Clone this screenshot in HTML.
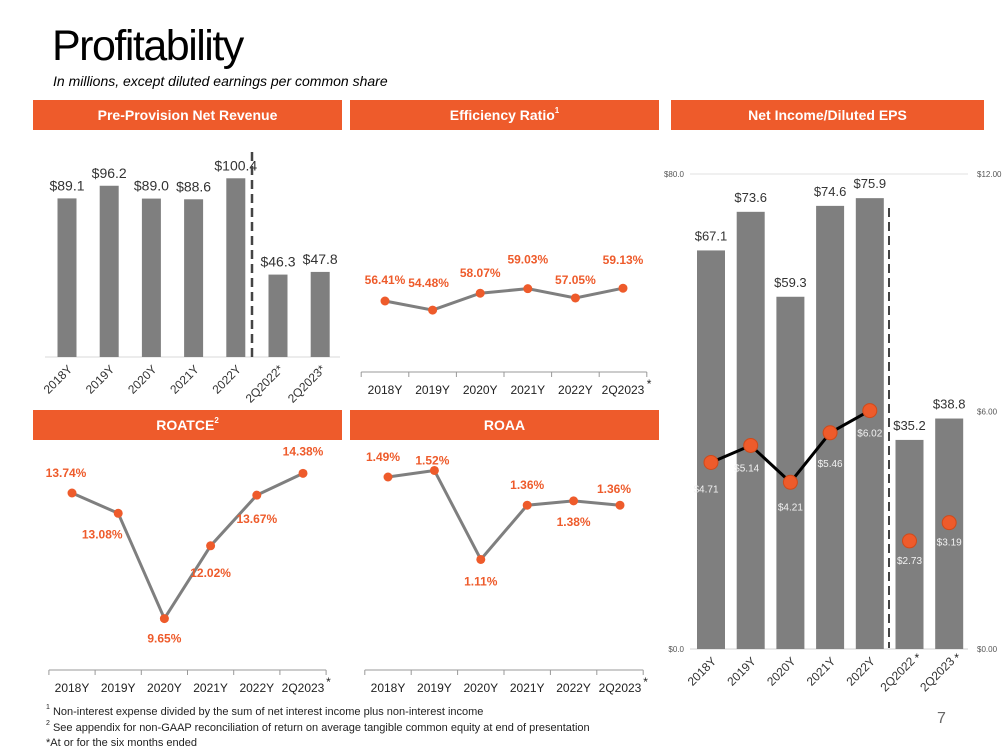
<!DOCTYPE html>
<html><head><meta charset="utf-8"><style>
body{margin:0;width:1008px;height:756px;background:#fff;font-family:"Liberation Sans",sans-serif;overflow:hidden;position:relative}
.hdr{position:absolute;height:30px;background:#EE5B2B;color:#fff;font-weight:bold;font-size:14px;text-align:center;line-height:30px}
sup{line-height:0;font-size:8px;position:relative;top:-1px}
svg{position:absolute;left:0;top:0}
</style></head><body>
<div style="position:absolute;left:52px;top:22px;font-size:43px;color:#000;letter-spacing:-1.5px">Profitability</div>
<div style="position:absolute;left:53px;top:73px;font-size:14px;font-style:italic">In millions, except diluted earnings per common share</div>
<div class="hdr" style="left:33px;top:100px;width:309px">Pre-Provision Net Revenue</div>
<div class="hdr" style="left:350px;top:100px;width:309px">Efficiency Ratio<sup>1</sup></div>
<div class="hdr" style="left:671px;top:100px;width:313px">Net Income/Diluted EPS</div>
<div class="hdr" style="left:33px;top:410px;width:309px">ROATCE<sup>2</sup></div>
<div class="hdr" style="left:350px;top:410px;width:309px">ROAA</div>
<div style="position:absolute;left:46px;top:705px;font-size:11px;line-height:15.5px;color:#222">
<div><sup style="font-size:7px">1</sup> Non-interest expense divided by the sum of net interest income plus non-interest income</div>
<div><sup style="font-size:7px">2</sup> See appendix for non-GAAP reconciliation of return on average tangible common equity at end of presentation</div>
<div>*At or for the six months ended</div></div>
<div style="position:absolute;left:937px;top:710px;font-size:16px;color:#666">7</div>
<svg id="s" width="1008" height="756"></svg>
<script>
const ppnrCats=["2018Y","2019Y","2020Y","2021Y","2022Y","2Q2022*","2Q2023*"];
const ppnrVals=[89.1,96.2,89.0,88.6,100.4,46.3,47.8];
const effCats=["2018Y","2019Y","2020Y","2021Y","2022Y","2Q2023"];
const effVals=[56.41,54.48,58.07,59.03,57.05,59.13];
const roatceVals=[13.74,13.08,9.65,12.02,13.67,14.38];
const roaaVals=[1.49,1.52,1.11,1.36,1.38,1.36];
const niCats=["2018Y","2019Y","2020Y","2021Y","2022Y","2Q2022","2Q2023"];
const niVals=[67.1,73.6,59.3,74.6,75.9,35.2,38.8];
const epsVals=[4.71,5.14,4.21,5.46,6.02,2.73,3.19];

const S=document.getElementById('s');const NS="http://www.w3.org/2000/svg";
function mk(t,a,txt){const e=document.createElementNS(NS,t);for(const k in a)e.setAttribute(k,a[k]);if(txt!==undefined)e.textContent=txt;S.appendChild(e);return e;}
const OR="#EE5B2B",GR="#7F7F7F";

// PPNR
const px=i=>67+i*42.2, py=v=>357-v*1.78;
let e=mk('line',{x1:45,x2:340,y1:357,y2:357,stroke:"#d9d9d9","stroke-width":1});

ppnrVals.forEach((v,i)=>{
 let b=mk('rect',{x:px(i)-9.5,y:py(v),width:19,height:357-py(v),fill:GR});
 
 let t=mk('text',{x:px(i),y:py(v)-8,"text-anchor":"middle","font-size":14,fill:"#333"},"$"+v.toFixed(1));
 
 let l=mk('text',{transform:`translate(${px(i)+6},${370}) rotate(-45)`,"text-anchor":"end","font-size":12,fill:"#333"},ppnrCats[i]);
 
});
e=mk('line',{x1:252,x2:252,y1:152,y2:362,stroke:"#444","stroke-width":2.5,"stroke-dasharray":"9,5"});


// line chart helper
function lineChart(name,vals,x0,step,yf,axisY,fmt,labelOff,lineColor){
 e=mk('line',{x1:x0-step/2,x2:x0+step*5.5,y1:axisY,y2:axisY,stroke:"#999"});
 
 for(let i=0;i<=6;i++){let tk=mk('line',{x1:x0+step*(i-0.5),x2:x0+step*(i-0.5),y1:axisY,y2:axisY+5,stroke:"#999"});
  }
 effCats.forEach((c,i)=>{let t=mk('text',{x:x0+step*i,y:axisY+22,"text-anchor":"middle","font-size":12,fill:"#222"},c);
  });
 let st=mk('text',{x:x0+step*5.5,y:axisY+16,"font-size":12,fill:"#222"},"*");
 
 let p=mk('polyline',{points:vals.map((v,i)=>(x0+step*i)+","+yf(v)).join(" "),fill:"none",stroke:lineColor,"stroke-width":3});
 
 vals.forEach((v,i)=>{let c=mk('circle',{cx:x0+step*i,cy:yf(v),r:4.5,fill:OR});
  
  let t=mk('text',{x:x0+step*i+labelOff[i][0],y:yf(v)+labelOff[i][1],"text-anchor":"middle","font-size":12,"font-weight":"bold",fill:OR},fmt(v));
  });
}
lineChart('efficiency',effVals,385,47.6,v=>301-(v-56.41)*4.7,372,v=>v.toFixed(2)+"%",
 [[0,-17],[-4,-23],[0,-16],[0,-25],[0,-14],[0,-24]],GR);
lineChart('roatce',roatceVals,72,46.2,v=>493-(v-13.74)*30.7,670,v=>v.toFixed(2)+"%",
 [[-6,-16],[-16,25],[0,24],[0,31],[0,28],[0,-18]],GR);
lineChart('roaa',roaaVals,388,46.4,v=>477-(v-1.49)*217,670,v=>v.toFixed(2)+"%",
 [[-5,-16],[-2,-6],[0,26],[0,-16],[0,25],[-6,-12]],GR);

// Net income / EPS
const nx=i=>711+i*39.7, ny=v=>649-v*5.94, ey=v=>649-v*39.6;
e=mk('line',{x1:690,x2:968,y1:174,y2:174,stroke:"#e0e0e0"});
e=mk('line',{x1:690,x2:968,y1:649,y2:649,stroke:"#d0d0d0"});
[["$80.0",174],["$0.0",649]].forEach(a=>{let t=mk('text',{x:684,y:a[1]+3,"text-anchor":"end","font-size":8,fill:"#555"},a[0]);
 });
[["$12.00",12],["$6.00",6],["$0.00",0]].forEach(a=>{let t=mk('text',{x:977,y:ey(a[1])+3,"font-size":8,fill:"#555"},a[0]);
 });
niVals.forEach((v,i)=>{
 let b=mk('rect',{x:nx(i)-14,y:ny(v),width:28,height:649-ny(v),fill:GR});
 
 let t=mk('text',{x:nx(i),y:ny(v)-10,"text-anchor":"middle","font-size":13,fill:"#333"},"$"+v.toFixed(1));
 
 let l=mk('text',{transform:`translate(${nx(i)+6},${662}) rotate(-45)`,"text-anchor":"end","font-size":12,fill:"#333"},niCats[i]);
 
 if(i>4){let s=mk('text',{x:nx(i)+5,y:662,"font-size":12,fill:"#222"},"*");}
});
e=mk('line',{x1:889,x2:889,y1:208,y2:648,stroke:"#444","stroke-width":2,"stroke-dasharray":"9,5"});

e=mk('polyline',{points:epsVals.slice(0,5).map((v,i)=>nx(i)+","+ey(v)).join(" "),fill:"none",stroke:"#000","stroke-width":3});

const epsOff=[[-5,30],[-4,26],[0,28],[0,34],[0,26],[0,23],[0,23]];
epsVals.forEach((v,i)=>{let c=mk('circle',{cx:nx(i),cy:ey(v),r:7,fill:OR,stroke:"#d04a1a"});
 
 let t=mk('text',{x:nx(i)+epsOff[i][0],y:ey(v)+epsOff[i][1],"text-anchor":"middle","font-size":10,fill:"#f2f2f2"},"$"+v.toFixed(2));
 });
</script>
</body></html>
